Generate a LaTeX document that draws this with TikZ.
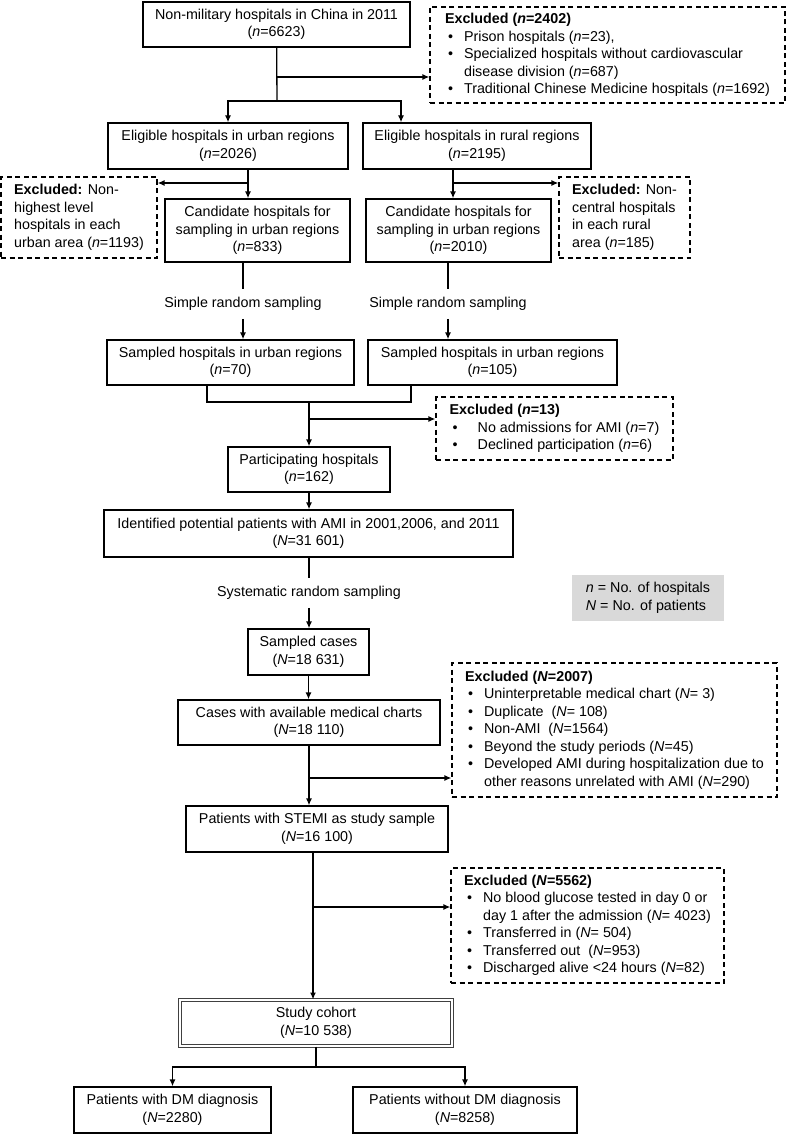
\documentclass[tikz,border=0pt]{standalone}
\usepackage{fontspec}
\setmainfont{Liberation Sans}
\usepackage{tikz}
\usetikzlibrary{arrows.meta}

\newcommand{\itm}[2][16pt]{\hspace*{3pt}\makebox[#1][l]{\textbullet}#2}

\begin{document}
\begin{tikzpicture}[x=1pt,y=-1pt,
    every node/.style={font=\fontsize{14.3}{17.5}\selectfont},
    block/.style={draw, line width=1.3pt, align=center, inner sep=0pt},
    excluded/.style={draw, line width=1.2pt, dash pattern=on 5pt off 3.5pt, align=left, inner sep=0pt},
    stage/.style={inner xsep=2pt, inner ysep=8pt},
    legendbox/.style={fill=black!15, align=left, inner sep=0pt},
    line/.style={line width=1.3pt},
    arr/.style={line width=1.3pt, -{Latex[length=7pt,width=6pt]}}]
   \useasboundingbox (0,0) rectangle (789,1134);
   % hospitals
   \node[block, minimum width=267pt, minimum height=45pt] (hosp) at (276.5,24.5) {Non-military hospitals in China in 2011\\(\textit{n}=6623)};
   \node[excluded, minimum width=355pt, minimum height=96pt] (exA) at (607.5,55) {\textbf{Excluded (\textit{n}=2402)}\\
      \itm{Prison hospitals (\textit{n}=23),}\\
      \itm{Specialized hospitals without cardiovascular}\\
      \hspace*{19pt}disease division (\textit{n}=687)\\
      \itm{Traditional Chinese Medicine hospitals (\textit{n}=1692)}};
   \node[block, minimum width=240pt, minimum height=46pt] (urb) at (228,146) {Eligible hospitals in urban regions\\(\textit{n}=2026)};
   \node[block, minimum width=228pt, minimum height=46pt] (rur) at (477,146) {Eligible hospitals in rural regions\\(\textit{n}=2195)};
   \node[excluded, minimum width=156pt, minimum height=81pt] (exU) at (79,217.5) {\textbf{Excluded:} Non-\\highest level\\hospitals in each\\urban area (\textit{n}=1193)};
   \node[excluded, minimum width=131pt, minimum height=81pt] (exR) at (624.5,217.5) {\textbf{Excluded:} Non-\\central hospitals\\in each rural\\area (\textit{n}=185)};
   \node[block, minimum width=185pt, minimum height=63pt] (candU) at (257.5,230.5) {Candidate hospitals for\\sampling in urban regions\\(\textit{n}=833)};
   \node[block, minimum width=185pt, minimum height=63pt] (candR) at (458.5,230.5) {Candidate hospitals for\\sampling in urban regions\\(\textit{n}=2010)};
   \node[stage] (srsU) at (243,304) {Simple random sampling};
   \node[stage] (srsR) at (448,304) {Simple random sampling};
   \node[block, minimum width=247pt, minimum height=45pt] (sampU) at (230.5,362.5) {Sampled hospitals in urban regions\\(\textit{n}=70)};
   \node[block, minimum width=249pt, minimum height=45pt] (sampR) at (492.5,362.5) {Sampled hospitals in urban regions\\(\textit{n}=105)};
   \node[excluded, minimum width=237pt, minimum height=63pt] (exN) at (554.5,428.5) {\textbf{Excluded (\textit{n}=13)}\\
      \itm[25pt]{No admissions for AMI (\textit{n}=7)}\\
      \itm[25pt]{Declined participation (\textit{n}=6)}};
   \node[block, minimum width=162pt, minimum height=45pt] (part) at (309,469.5) {Participating hospitals\\(\textit{n}=162)};
   % patients
   \node[block, minimum width=409pt, minimum height=47pt] (ident) at (308.5,533.5) {Identified potential patients with AMI in 2001,2006, and 2011\\(\textit{N}=31 601)};
   \node[stage] (sys) at (309,593) {Systematic random sampling};
   \node[legendbox, minimum width=152pt, minimum height=46pt] (key) at (648,598) {\textit{n} = No. of hospitals\\\textit{N} = No. of patients};
   \node[block, minimum width=121pt, minimum height=46pt] (sc) at (308.5,652) {Sampled cases\\(\textit{N}=18 631)};
   \node[block, minimum width=262pt, minimum height=45pt] (cases) at (309,722.5) {Cases with available medical charts\\(\textit{N}=18 110)};
   \node[excluded, minimum width=325pt, minimum height=134pt] (exB) at (614.5,730) {\textbf{Excluded (\textit{N}=2007)}\\
      \itm{Uninterpretable medical chart (\textit{N}= 3)}\\
      \itm{Duplicate~ (\textit{N}= 108)}\\
      \itm{Non-AMI~ (\textit{N}=1564)}\\
      \itm{Beyond the study periods (\textit{N}=45)}\\
      \itm{Developed AMI during hospitalization due to}\\
      \hspace*{19pt}other reasons unrelated with AMI (\textit{N}=290)};
   \node[block, minimum width=262pt, minimum height=46pt] (stemi) at (317,829) {Patients with STEMI as study sample\\(\textit{N}=16 100)};
   \node[excluded, minimum width=273pt, minimum height=115pt] (exC) at (587.5,925.5) {\textbf{Excluded (\textit{N}=5562)}\\
      \itm{No blood glucose tested in day 0 or}\\
      \hspace*{19pt}day 1 after the admission (\textit{N}= 4023)\\
      \itm{Transferred in (\textit{N}= 504)}\\
      \itm{Transferred out~ (\textit{N}=953)}\\
      \itm{Discharged alive <24 hours (\textit{N}=82)}};
   \node[block, draw=black!75, double=white, double distance=1.4pt, line width=1pt, minimum width=272pt, minimum height=46pt] (cohort) at (316,1023) {Study cohort\\(\textit{N}=10 538)};
   \node[block, minimum width=197pt, minimum height=46pt] (dm) at (172.5,1110) {Patients with DM diagnosis\\(\textit{N}=2280)};
   \node[block, minimum width=224pt, minimum height=46pt] (nodm) at (465,1110) {Patients without DM diagnosis\\(\textit{N}=8258)};
   % junctions
   \coordinate (j0) at (277,77);
   \coordinate (j1) at (277,101);
   \coordinate (j2) at (401,101);
   \coordinate (u1) at (248,183);
   \coordinate (r1) at (453,183);
   \coordinate (m1) at (207,402);
   \coordinate (m2) at (411,402);
   \coordinate (m0) at (309,402);
   \coordinate (m3) at (309,419);
   \coordinate (c1) at (309,778);
   \coordinate (s1) at (313,907);
   \coordinate (k1) at (316,1067);
   % connectors
   \draw[line] (hosp) -- (j1);
   \draw[arr] (j0) -- (j0 -| exA.west);
   \draw[arr] (j1) -| (urb);
   \draw[arr] (j1) -| (j2 |- rur.north);
   \draw[arr] (urb.south -| u1) -- (u1 |- candU.north);
   \draw[arr] (u1) -- (u1 -| exU.east);
   \draw[arr] (rur.south -| r1) -- (r1 |- candR.north);
   \draw[arr] (r1) -- (r1 -| exR.west);
   \draw[line] (candU.south -| srsU.north) -- (srsU.north);
   \draw[arr] (srsU.south) -- (srsU.south |- sampU.north);
   \draw[line] (candR.south -| srsR.north) -- (srsR.north);
   \draw[arr] (srsR.south) -- (srsR.south |- sampR.north);
   \draw[line] (sampU.south -| m1) |- (m2) -- (sampR.south -| m2);
   \draw[arr] (m0) -- (part);
   \draw[arr] (m3) -- (m3 -| exN.west);
   \draw[arr] (part.south) -- (part.south |- ident.north);
   \draw[line] (ident.south -| sys.north) -- (sys.north);
   \draw[arr] (sys.south) -- (sys.south |- sc.north);
   \draw[arr] (sc.south) -- (sc.south |- cases.north);
   \draw[arr] (cases.south -| c1) -- (c1 |- stemi.north);
   \draw[arr] (c1) -- (c1 -| exB.west);
   \draw[arr] (stemi.south -| s1) -- (s1 |- cohort.north);
   \draw[arr] (s1) -- (s1 -| exC.west);
   \draw[line] (cohort) -- (k1);
   \draw[arr] (k1) -| (dm);
   \draw[arr] (k1) -| (nodm);
 \end{tikzpicture}
\end{document}
